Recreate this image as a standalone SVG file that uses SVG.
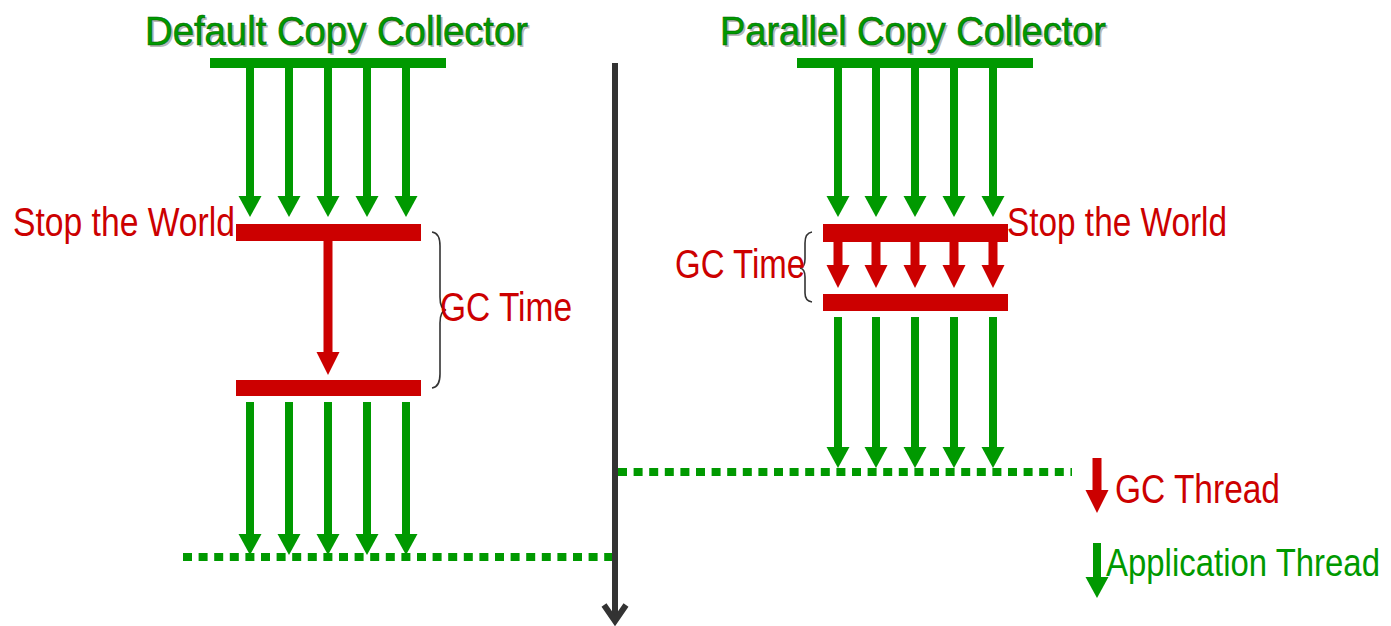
<svg xmlns="http://www.w3.org/2000/svg" width="1391" height="626" viewBox="0 0 1391 626">
<defs>
<marker id="hg" markerUnits="userSpaceOnUse" markerWidth="22" markerHeight="24" viewBox="0 0 22 24" refX="6" refY="12" orient="auto"><path d="M0,0.5 L21,12 L0,23.5 z" fill="#009900"/></marker>
<marker id="hr" markerUnits="userSpaceOnUse" markerWidth="24" markerHeight="24" viewBox="0 0 24 24" refX="6" refY="12" orient="auto"><path d="M0,0.5 L23,12 L0,23.5 z" fill="#cc0000"/></marker>
<style>
.title{font-family:"Liberation Sans",Arial,sans-serif;font-size:41px;fill:#009900;stroke:#006600;stroke-width:0.6}
.shadow{font-family:"Liberation Sans",Arial,sans-serif;font-size:41px;fill:#b8b8b8}
.lbl{font-family:"Liberation Sans",Arial,sans-serif;font-size:40px;fill:#cc0000}
.lblg{font-family:"Liberation Sans",Arial,sans-serif;font-size:33px;fill:#009900}
.ga{stroke:#009900;stroke-width:8;fill:none;marker-end:url(#hg)}
.ra{stroke:#cc0000;stroke-width:9;fill:none;marker-end:url(#hr)}
.gbar{fill:#009900}
.rbar{fill:#cc0000}
.dot{stroke:#009900;stroke-width:8;stroke-dasharray:9 6.6;fill:none}
.brace{stroke:#333;stroke-width:1.6;fill:none}
</style>
</defs>
<rect width="1391" height="626" fill="#ffffff"/>
<g id="title-default">
<text class="shadow" x="147" y="47" textLength="383" lengthAdjust="spacingAndGlyphs">Default Copy Collector</text>
<text class="title" x="145" y="45" textLength="383" lengthAdjust="spacingAndGlyphs">Default Copy Collector</text>
</g>
<g id="title-parallel">
<text class="shadow" x="722" y="47" textLength="386" lengthAdjust="spacingAndGlyphs">Parallel Copy Collector</text>
<text class="title" x="720" y="45" textLength="386" lengthAdjust="spacingAndGlyphs">Parallel Copy Collector</text>
</g>
<g id="default-start-bar"><rect class="gbar" x="210" y="58" width="236" height="10"/></g>
<g id="parallel-start-bar"><rect class="gbar" x="797" y="58" width="236" height="10"/></g>
<g id="default-stop-bar"><rect class="rbar" x="236" y="224" width="185" height="17"/></g>
<g id="default-resume-bar"><rect class="rbar" x="236" y="380" width="185" height="16"/></g>
<g id="parallel-stop-bar"><rect class="rbar" x="823" y="224" width="185" height="18"/></g>
<g id="parallel-resume-bar"><rect class="rbar" x="823" y="294" width="185" height="17"/></g>
<g id="divider">
<line x1="615" y1="63" x2="615" y2="620" stroke="#333" stroke-width="6"/>
<polyline points="604,605 615,621 626,605" fill="none" stroke="#333" stroke-width="6" stroke-linejoin="miter"/>
</g>
<g id="connectors">
<line class="ga" x1="250" y1="68" x2="250" y2="202"/>
<line class="ga" x1="289" y1="68" x2="289" y2="202"/>
<line class="ga" x1="328" y1="68" x2="328" y2="202"/>
<line class="ga" x1="367" y1="68" x2="367" y2="202"/>
<line class="ga" x1="406" y1="68" x2="406" y2="202"/>
<line class="ra" x1="328" y1="241" x2="328" y2="358"/>
<line class="ga" x1="250" y1="402" x2="250" y2="540"/>
<line class="ga" x1="289" y1="402" x2="289" y2="540"/>
<line class="ga" x1="328" y1="402" x2="328" y2="540"/>
<line class="ga" x1="367" y1="402" x2="367" y2="540"/>
<line class="ga" x1="406" y1="402" x2="406" y2="540"/>
<line class="ga" x1="838" y1="68" x2="838" y2="202"/>
<line class="ga" x1="876" y1="68" x2="876" y2="202"/>
<line class="ga" x1="915" y1="68" x2="915" y2="202"/>
<line class="ga" x1="954" y1="68" x2="954" y2="202"/>
<line class="ga" x1="993" y1="68" x2="993" y2="202"/>
<line class="ra" x1="838" y1="242" x2="838" y2="271"/>
<line class="ra" x1="876" y1="242" x2="876" y2="271"/>
<line class="ra" x1="915" y1="242" x2="915" y2="271"/>
<line class="ra" x1="954" y1="242" x2="954" y2="271"/>
<line class="ra" x1="993" y1="242" x2="993" y2="271"/>
<line class="ga" x1="838" y1="317" x2="838" y2="453"/>
<line class="ga" x1="876" y1="317" x2="876" y2="453"/>
<line class="ga" x1="915" y1="317" x2="915" y2="453"/>
<line class="ga" x1="954" y1="317" x2="954" y2="453"/>
<line class="ga" x1="993" y1="317" x2="993" y2="453"/>
<line class="dot" x1="183" y1="557" x2="612" y2="557"/>
<line class="dot" x1="618" y1="472" x2="1072" y2="472"/>
</g>
<g id="default-labels">
<text class="lbl" x="13" y="236" textLength="222" lengthAdjust="spacingAndGlyphs">Stop the World</text>
<path class="brace" d="M432,232 Q440,233 440,246 L440,297 Q440,309 446,310 Q440,311 440,323 L440,374 Q440,387 432,388"/>
<text class="lbl" x="440" y="321" textLength="132" lengthAdjust="spacingAndGlyphs">GC Time</text>
</g>
<g id="parallel-labels">
<text class="lbl" x="1007" y="236" textLength="220" lengthAdjust="spacingAndGlyphs">Stop the World</text>
<path class="brace" d="M812,232 Q805,233 805,243 L805,259 Q805,267 800,268 Q805,269 805,277 L805,293 Q805,301 812,302"/>
<text class="lbl" x="675" y="278" textLength="130" lengthAdjust="spacingAndGlyphs">GC Time</text>
</g>
<g id="legend-gc">
<line class="ra" x1="1097" y1="458" x2="1097" y2="496"/>
<text class="lbl" x="1115" y="503" textLength="165" lengthAdjust="spacingAndGlyphs">GC Thread</text>
</g>
<g id="legend-app">
<line class="ga" x1="1097" y1="543" x2="1097" y2="583"/>
<text class="lblg" transform="translate(1106,576) scale(1,1.2)" x="0" y="0" textLength="274" lengthAdjust="spacingAndGlyphs">Application Thread</text>
</g>
</svg>
